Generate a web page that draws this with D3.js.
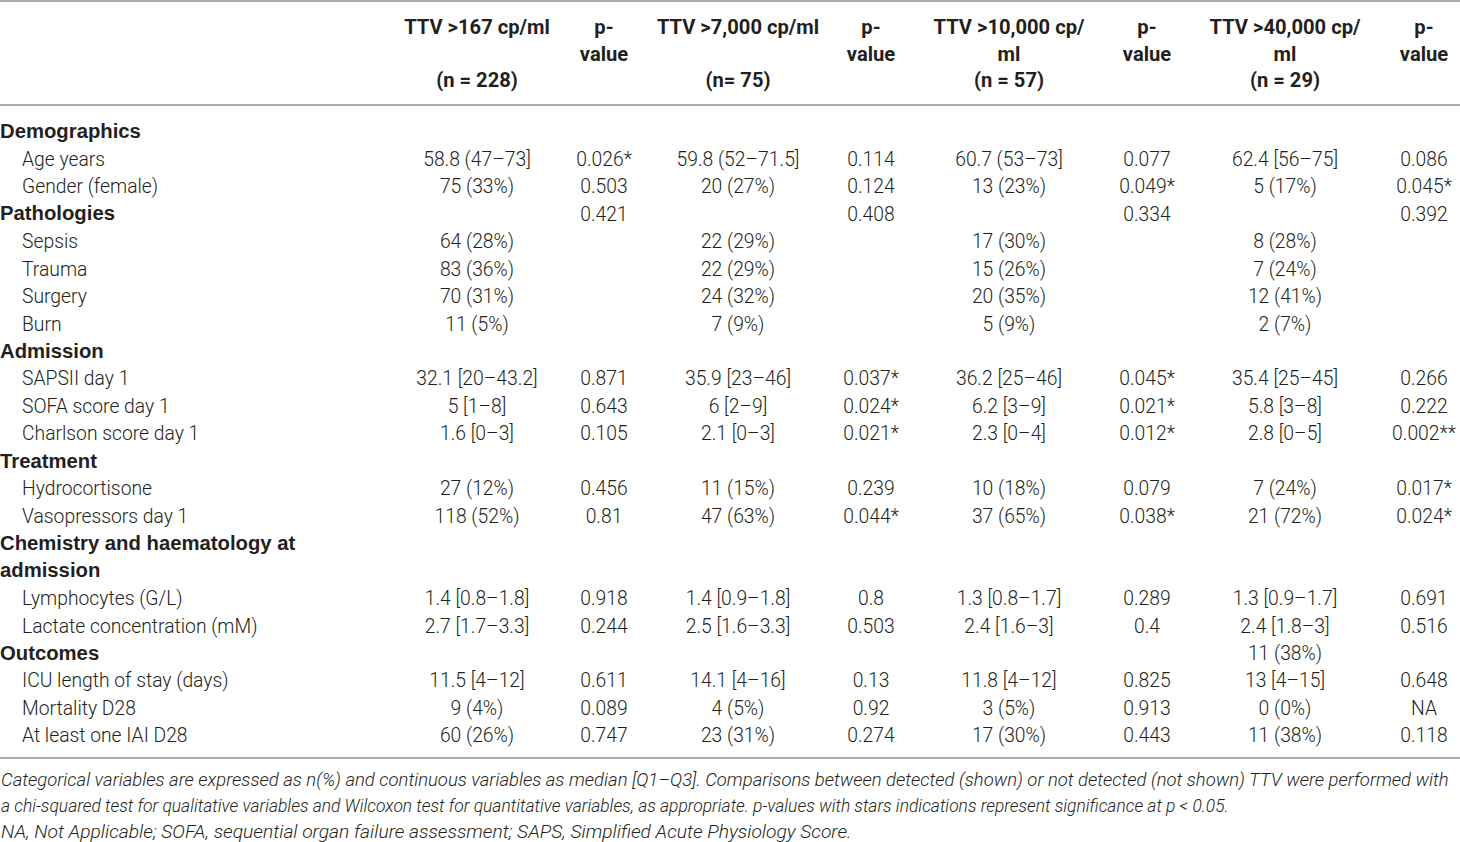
<!DOCTYPE html>
<html>
<head>
<meta charset="UTF-8">
<style>
  body { margin: 0; background: #fff; }
  svg text { fill: #231f20; }
  .cond { font-family: Roboto, "Liberation Sans", sans-serif; font-weight: 300; font-size: 21px; }
  .sect { font-family: "Liberation Sans", Arial, sans-serif; font-weight: bold; font-size: 20.3px; }
  .head { font-family: Roboto, "Liberation Sans", sans-serif; font-weight: bold; font-size: 21px; }
  .note { font-family: Roboto, "Liberation Sans", sans-serif; font-weight: 300; font-style: italic; font-size: 19.2px; }
</style>
<script src="https://d3js.org/d3.v7.min.js"></script>
</head>
<body>
<svg id="tbl" width="1460" height="842"></svg>
<script>
// header text, one array of lines per column
const headerLines = [
  ["TTV >167 cp/ml", "", "(n = 228)"],
  ["p-", "value", ""],
  ["TTV >7,000 cp/ml", "", "(n= 75)"],
  ["p-", "value", ""],
  ["TTV >10,000 cp/", "ml", "(n = 57)"],
  ["p-", "value", ""],
  ["TTV >40,000 cp/", "ml", "(n = 29)"],
  ["p-", "value", ""]
];

const rowLabels = [
  "Demographics", "Age years", "Gender (female)",
  "Pathologies", "Sepsis", "Trauma", "Surgery", "Burn",
  "Admission", "SAPSII day 1", "SOFA score day 1", "Charlson score day 1",
  "Treatment", "Hydrocortisone", "Vasopressors day 1",
  "Chemistry and haematology at", "admission", "Lymphocytes (G/L)", "Lactate concentration (mM)",
  "Outcomes", "ICU length of stay (days)", "Mortality D28", "At least one IAI D28"
];
// 1 = bold section heading, 0 = indented item
const rowIsSection = [1,0,0, 1,0,0,0,0, 1,0,0,0, 1,0,0, 1,1,0,0, 1,0,0,0];

const ttv167 = ["", "58.8 (47–73]", "75 (33%)", "", "64 (28%)", "83 (36%)", "70 (31%)", "11 (5%)",
  "", "32.1 [20–43.2]", "5 [1–8]", "1.6 [0–3]", "", "27 (12%)", "118 (52%)",
  "", "", "1.4 [0.8–1.8]", "2.7 [1.7–3.3]", "", "11.5 [4–12]", "9 (4%)", "60 (26%)"];
const p167 = ["", "0.026*", "0.503", "0.421", "", "", "", "",
  "", "0.871", "0.643", "0.105", "", "0.456", "0.81",
  "", "", "0.918", "0.244", "", "0.611", "0.089", "0.747"];
const ttv7000 = ["", "59.8 (52–71.5]", "20 (27%)", "", "22 (29%)", "22 (29%)", "24 (32%)", "7 (9%)",
  "", "35.9 [23–46]", "6 [2–9]", "2.1 [0–3]", "", "11 (15%)", "47 (63%)",
  "", "", "1.4 [0.9–1.8]", "2.5 [1.6–3.3]", "", "14.1 [4–16]", "4 (5%)", "23 (31%)"];
const p7000 = ["", "0.114", "0.124", "0.408", "", "", "", "",
  "", "0.037*", "0.024*", "0.021*", "", "0.239", "0.044*",
  "", "", "0.8", "0.503", "", "0.13", "0.92", "0.274"];
const ttv10000 = ["", "60.7 (53–73]", "13 (23%)", "", "17 (30%)", "15 (26%)", "20 (35%)", "5 (9%)",
  "", "36.2 [25–46]", "6.2 [3–9]", "2.3 [0–4]", "", "10 (18%)", "37 (65%)",
  "", "", "1.3 [0.8–1.7]", "2.4 [1.6–3]", "", "11.8 [4–12]", "3 (5%)", "17 (30%)"];
const p10000 = ["", "0.077", "0.049*", "0.334", "", "", "", "",
  "", "0.045*", "0.021*", "0.012*", "", "0.079", "0.038*",
  "", "", "0.289", "0.4", "", "0.825", "0.913", "0.443"];
const ttv40000 = ["", "62.4 [56–75]", "5 (17%)", "", "8 (28%)", "7 (24%)", "12 (41%)", "2 (7%)",
  "", "35.4 [25–45]", "5.8 [3–8]", "2.8 [0–5]", "", "7 (24%)", "21 (72%)",
  "", "", "1.3 [0.9–1.7]", "2.4 [1.8–3]", "11 (38%)", "13 [4–15]", "0 (0%)", "11 (38%)"];
const p40000 = ["", "0.086", "0.045*", "0.392", "", "", "", "",
  "", "0.266", "0.222", "0.002**", "", "0.017*", "0.024*",
  "", "", "0.691", "0.516", "", "0.648", "NA", "0.118"];

const footnotes = [
  "Categorical variables are expressed as n(%) and continuous variables as median [Q1–Q3]. Comparisons between detected (shown) or not detected (not shown) TTV were performed with",
  "a chi-squared test for qualitative variables and Wilcoxon test for quantitative variables, as appropriate. p-values with stars indications represent significance at p < 0.05.",
  "NA, Not Applicable; SOFA, sequential organ failure assessment; SAPS, Simplified Acute Physiology Score."
];
// how far each footnote line runs across the page
const footnoteWidths = [1448, 1227, 851];

const columns = [ttv167, p167, ttv7000, p7000, ttv10000, p10000, ttv40000, p40000];

const svg = d3.select("#tbl");
const W = 1460;
const squeeze = 0.92;   // narrow the type a bit, the source uses a condensed face

// column centres and row positions
const colX = d3.scaleOrdinal().domain(d3.range(8)).range([477, 604, 738, 871, 1009, 1147, 1285, 1424]);
const rowY = d3.scaleLinear().domain([0, rowLabels.length - 1]).range([131, 735]);
const headY = d3.scaleLinear().domain([0, 2]).range([27, 80]);
const noteY = d3.scaleLinear().domain([0, 2]).range([779, 831]);

function place(x, y, sx) {
  return "translate(" + x + "," + y + ") scale(" + sx + ",1)";
}

// rules
const rules = [1, 105, 758];
svg.selectAll("line.rule").data(rules).join("line")
  .attr("class", "rule")
  .attr("x1", 0).attr("x2", W)
  .attr("y1", d => d).attr("y2", d => d)
  .attr("stroke", "#8f8f8f").attr("stroke-width", 1.6);

// header
headerLines.forEach((lines, c) => {
  svg.append("g").selectAll("text").data(lines).join("text")
    .attr("class", "head")
    .attr("transform", (d, i) => place(colX(c), headY(i), 0.96))
    .attr("dy", "0.35em")
    .attr("text-anchor", "middle")
    .text(d => d);
});

// row labels
svg.append("g").selectAll("text").data(rowLabels).join("text")
  .attr("class", (d, i) => rowIsSection[i] ? "sect" : "cond")
  .attr("transform", (d, i) => rowIsSection[i] ? place(0, rowY(i), 1) : place(22, rowY(i), squeeze))
  .attr("dy", "0.35em")
  .text(d => d);

// body cells
columns.forEach((vals, c) => {
  svg.append("g").selectAll("text").data(vals).join("text")
    .attr("class", "cond")
    .attr("transform", (d, i) => place(colX(c), rowY(i), squeeze))
    .attr("dy", "0.35em")
    .attr("text-anchor", "middle")
    .text(d => d);
});

// footnote lines: measure, then scale each line across to its length
svg.append("g").selectAll("text").data(footnotes).join("text")
  .attr("class", "note")
  .attr("dy", "0.35em")
  .text(d => d)
  .each(function(d, i) {
    const len = this.getComputedTextLength();
    d3.select(this).attr("transform", place(1, noteY(i), footnoteWidths[i] / len));
  });
</script>
</body>
</html>
